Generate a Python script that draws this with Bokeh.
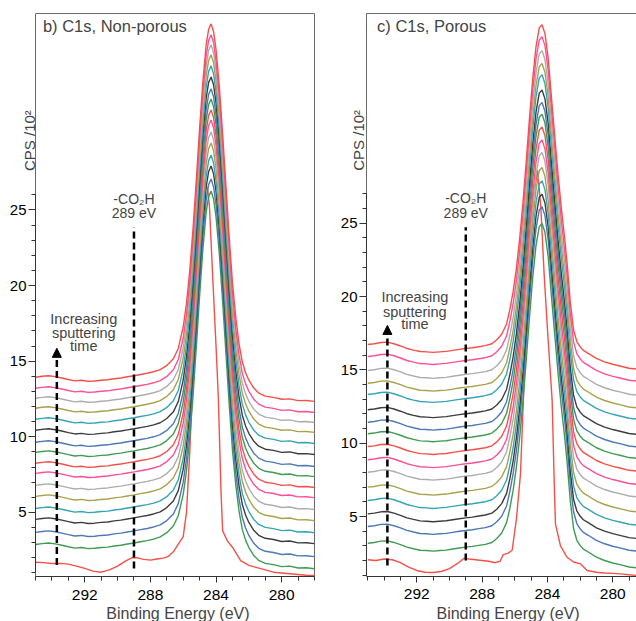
from bokeh.plotting import figure
from bokeh.layouts import row
from bokeh.models import Range1d, FixedTicker, Label, Arrow, NormalHead, LinearAxis
from bokeh.embed import file_html
from bokeh.resources import INLINE

FONT = "Liberation Sans"

RED, GREEN, BLUE, BLACK = "#f4504a", "#3f9b52", "#4c78b6", "#3d3d3d"
TEAL, OLIVE, GRAY, PINK = "#35a4b4", "#a8a24c", "#adadad", "#ff4f96"
FRAME = "#6a6a6a"

# colours of the stacked spectra above the first (bottom) one, bottom -> top
stack_colors = [GREEN, BLUE, BLACK, TEAL, OLIVE, GRAY, PINK, RED,
                GREEN, BLUE, BLACK, TEAL, OLIVE, GRAY, PINK, RED]

# ---------------- b) C1s, Non-porous ----------------
np_energy = [295.0, 294.6, 294.2, 293.8, 293.4, 293.0, 292.6, 292.2, 291.8, 291.4,
             291.0, 290.6, 290.2, 289.8, 289.4, 289.0, 288.6, 288.2, 287.8, 287.4,
             287.0, 286.6, 286.3, 286.0, 285.8, 285.6, 285.4, 285.2, 285.0, 284.8,
             284.6, 284.45, 284.3, 284.15, 284.0, 283.8, 283.6, 283.4, 283.2, 283.0,
             282.8, 282.6, 282.4, 282.2, 282.0, 281.7, 281.4, 281.0, 280.5, 280.0,
             279.5, 279.0, 278.5, 278.0]
# spectrum profile relative to its value at 295 eV
np_profile = [0.00, 0.06, 0.10, 0.04, -0.05, -0.15, -0.24, -0.20, -0.27, -0.25,
              -0.20, -0.17, -0.10, -0.05, 0.03, 0.10, 0.18, 0.26, 0.36, 0.50,
              0.78, 1.22, 1.90, 3.32, 4.87, 7.05, 9.84, 13.07, 16.45, 19.54,
              21.98, 23.00, 23.36, 22.84, 21.66, 19.23, 16.10, 12.69, 9.30, 6.26,
              3.97, 2.22, 1.00, 0.29, -0.20, -0.72, -1.05, -1.25, -1.33, -1.46,
              -1.43, -1.55, -1.54, -1.60]
# stack offsets (value at 295 eV) of spectra 2..17
np_offsets = [2.88, 3.68, 4.54, 5.26, 6.06, 6.79, 7.58, 8.25,
              8.97, 9.64, 10.43, 11.16, 11.89, 12.55, 13.21, 13.94]
# first (bottom, red) spectrum
np_first_energy = [295.0, 294.5, 294.0, 293.5, 293.0, 292.5, 292.0, 291.5, 291.0, 290.5,
                   290.0, 289.5, 289.1, 288.8, 288.4, 288.0, 287.6, 287.2, 286.9, 286.6,
                   286.3, 286.0, 285.8, 285.6, 285.4, 285.2, 285.0, 284.8, 284.65, 284.5,
                   284.4, 284.2, 284.0, 283.86, 283.7, 283.6, 283.3, 283.0, 282.5, 282.0,
                   281.5, 281.0, 280.5, 280.0, 279.5, 279.0, 278.5, 278.0]
np_first_cps = [1.71, 1.68, 1.62, 1.63, 1.58, 1.45, 1.30, 1.12, 1.05, 1.20,
                1.45, 1.80, 2.02, 2.00, 1.90, 1.85, 1.92, 1.98, 2.10, 2.40,
                2.90, 3.40, 5.00, 9.00, 14.2, 18.5, 22.0, 25.0, 26.8, 26.3,
                25.2, 20.5, 16.0, 12.6, 6.5, 3.8, 3.1, 2.7, 1.82, 1.50,
                1.35, 1.20, 1.05, 1.00, 0.95, 0.90, 0.85, 0.83]

# ---------------- c) C1s, Porous ----------------
p_energy = [295.0, 294.6, 294.2, 293.8, 293.4, 293.0, 292.6, 292.2, 291.8, 291.4,
            291.0, 290.6, 290.2, 289.8, 289.4, 289.0, 288.6, 288.2, 287.8, 287.4,
            287.1, 286.8, 286.5, 286.3, 286.1, 285.9, 285.7, 285.5, 285.3, 285.1,
            284.9, 284.7, 284.5, 284.33, 284.15, 283.95, 283.75, 283.55, 283.35, 283.15,
            282.95, 282.8, 282.6, 282.4, 282.2, 282.0, 281.8, 281.5, 281.0, 280.5,
            280.0, 279.5, 279.0, 278.5, 278.0]
p_profile = [0.00, 0.05, 0.14, 0.16, 0.05, -0.10, -0.27, -0.38, -0.48, -0.50,
             -0.54, -0.50, -0.47, -0.40, -0.33, -0.27, -0.22, -0.15, -0.08, 0.05,
             0.32, 0.70, 1.40, 2.40, 3.60, 5.19, 7.20, 9.65, 12.45, 15.40,
             18.13, 20.29, 21.59, 21.80, 21.20, 19.50, 16.80, 14.20, 11.60, 9.30,
             7.30, 5.60, 2.90, 1.00, 0.20, -0.15, -0.40, -0.60, -0.95, -1.18,
             -1.35, -1.48, -1.62, -1.68, -1.74]
p_offsets = [3.18, 4.32, 5.18, 6.09, 7.00, 8.02, 8.87, 9.77,
             10.64, 11.43, 12.28, 13.32, 14.09, 14.96, 15.91, 16.73]
p_first_energy = [295.0, 294.5, 294.0, 293.5, 293.0, 292.5, 292.0, 291.5, 291.0, 290.5,
                  290.0, 289.5, 289.1, 288.8, 288.4, 288.0, 287.6, 287.2, 286.9, 286.7,
                  286.4, 286.16, 285.9, 285.65, 285.45, 285.25, 285.05, 284.85, 284.6, 284.4,
                  284.2, 284.0, 283.71, 283.6, 283.51, 283.2, 282.8, 282.4, 281.98, 281.57,
                  281.0, 280.5, 280.0, 279.5, 279.0, 278.5, 278.0]
p_first_cps = [2.05, 2.00, 2.10, 2.05, 1.85, 1.55, 1.32, 1.20, 1.18, 1.25,
               1.45, 1.80, 2.15, 2.10, 2.05, 2.00, 1.95, 1.85, 1.95, 2.40,
               2.50, 2.70, 4.80, 7.90, 13.6, 19.0, 23.5, 26.8, 28.6, 26.0,
               21.5, 17.8, 12.9, 8.0, 4.5, 3.0, 2.22, 1.90, 1.77, 1.32,
               1.20, 1.15, 1.12, 1.09, 1.03, 0.98, 0.95]

x_major = [280, 284, 288, 292]
y_major = [5, 10, 15, 20, 25]

co2h_energy = 289.0


def style_axis(ax):
    ax.axis_line_color = "#333333"
    ax.major_tick_line_color = "#333333"
    ax.minor_tick_line_color = "#333333"
    ax.major_label_text_color = "black"
    ax.major_label_text_font = FONT
    ax.major_tick_in = 0
    ax.minor_tick_in = 0


def make_panel(cfg):
    box_l, box_r, box_b, box_t = cfg["box"]          # visible plot box, data units
    p = figure(width=318, height=621, output_backend="svg", toolbar_location=None,
               x_range=Range1d(*cfg["xr"]), y_range=Range1d(*cfg["yr"]),
               x_axis_location=None, y_axis_location=None,
               min_border_left=0, min_border_right=cfg["mbr"],
               min_border_top=12, min_border_bottom=0,
               background_fill_color="white", border_fill_color="white")
    p.xgrid.visible = False
    p.ygrid.visible = False
    p.outline_line_color = None

    # plot box border
    p.line([box_l, box_r], [box_t, box_t], line_color=FRAME, line_width=1)
    p.line([box_l, box_l], [box_b, box_t], line_color=FRAME, line_width=1)
    if cfg["right_border"]:
        p.line([box_r, box_r], [box_b, box_t], line_color=FRAME, line_width=1)

    # x axis along the bottom of the plot box
    xa = LinearAxis(fixed_location=box_b,
                    ticker=FixedTicker(ticks=x_major, minor_ticks=cfg["x_minor"]),
                    bounds=(min(box_l, box_r), max(box_l, box_r)))
    style_axis(xa)
    xa.major_label_text_font_size = "15.5px"
    xa.major_label_standoff = 7
    xa.major_tick_out = 6
    xa.minor_tick_out = 4
    p.add_layout(xa, "below")
    p.add_layout(Label(x=cfg["xtitle_xy"][0], y=cfg["xtitle_xy"][1], text="Binding Energy (eV)",
                       text_font=FONT, text_font_size="16px", text_align="center",
                       text_baseline="middle"))

    # y axis with ticks, drawn at the plot box's left edge, spanning 1 .. ytop only
    ya = LinearAxis(fixed_location=box_l,
                    ticker=FixedTicker(ticks=y_major, minor_ticks=list(range(1, cfg["ytop"] + 1))),
                    bounds=(1, cfg["ytop"]))
    style_axis(ya)
    ya.major_label_text_font_size = "15px"
    ya.major_label_standoff = 2
    ya.major_tick_out = 7
    ya.minor_tick_out = 4
    p.add_layout(ya, "left")

    # y axis title
    p.add_layout(Label(x=cfg["cps_xy"][0], y=cfg["cps_xy"][1], text="CPS /10\u00b2", text_font=FONT,
                       text_font_size="15px", angle=90, angle_units="deg",
                       text_align="center", text_baseline="middle"))

    # bottom spectrum
    p.line(cfg["first_e"], cfg["first_v"], line_color=RED, line_width=1.4)
    # stacked spectra
    for off, col in zip(cfg["offsets"], stack_colors):
        p.line(cfg["energy"], [v + off for v in cfg["profile"]], line_color=col, line_width=1.4)

    # -CO2H marker
    p.line([co2h_energy, co2h_energy], cfg["co2h_y"], line_color="black", line_width=2.5, line_dash="7 4")
    p.add_layout(Label(x=co2h_energy, y=cfg["co2h_txt"][0], text="-CO\u2082H", text_font=FONT,
                       text_font_size="14px", text_align="center", text_baseline="middle"))
    p.add_layout(Label(x=co2h_energy, y=cfg["co2h_txt"][1], text="289 eV", text_font=FONT,
                       text_font_size="14px", text_align="center", text_baseline="middle"))
    # sputtering arrow
    p.add_layout(Arrow(end=NormalHead(size=9, fill_color="black", line_color="black", line_width=1),
                       x_start=cfg["arrow_x"], y_start=cfg["arrow_y"][0],
                       x_end=cfg["arrow_x"], y_end=cfg["arrow_y"][1],
                       line_color="black", line_width=2.5, line_dash="7 4"))
    for txt, yy in zip(["Increasing", "sputtering", "time"], cfg["inc_y"]):
        p.add_layout(Label(x=cfg["inc_x"], y=yy, text=txt, text_font=FONT, text_font_size="14.5px",
                           text_align="center", text_baseline="middle"))
    # panel title
    p.add_layout(Label(x=cfg["title_xy"][0], y=cfg["title_xy"][1], text=cfg["title"], text_font=FONT,
                       text_font_size="16.5px", text_align="left", text_baseline="middle"))
    return p


left = make_panel(dict(xr=(297.133, 277.939), yr=(-2.21, 38.05), mbr=3,
                       box=(295.0, 278.0, 0.76, 37.98), right_border=True,
                       x_minor=list(range(278, 296)), xtitle_xy=(286.32, -1.68),
                       ytop=26, energy=np_energy, profile=np_profile, offsets=np_offsets,
                       first_e=np_first_energy, first_v=np_first_cps,
                       co2h_y=[1.3, 23.85], co2h_txt=[25.74, 24.79],
                       arrow_x=293.7, arrow_y=[1.52, 15.85], inc_x=292.06, inc_y=[17.82, 16.83, 15.97],
                       title="b) C1s, Non-porous", title_xy=(294.55, 37.14), cps_xy=(295.37, 29.58)))

right = make_panel(dict(xr=(298.019, 278.545), yr=(-2.16, 39.37), mbr=0,
                        box=(295.08, 278.545, 0.91, 39.3), right_border=False,
                        x_minor=list(range(279, 296)), xtitle_xy=(286.41, -1.61),
                        ytop=27, energy=p_energy, profile=p_profile, offsets=p_offsets,
                        first_e=p_first_energy, first_v=p_first_cps,
                        co2h_y=[2.0, 24.73], co2h_txt=[26.73, 25.7],
                        arrow_x=293.8, arrow_y=[1.66, 18.03], inc_x=292.12, inc_y=[19.94, 18.98, 18.1],
                        title="c) C1s, Porous", title_xy=(294.43, 38.42), cps_xy=(295.57, 30.65)))

layout = row(left, right, spacing=0)
open("out.html", "w").write(file_html(layout, INLINE))
